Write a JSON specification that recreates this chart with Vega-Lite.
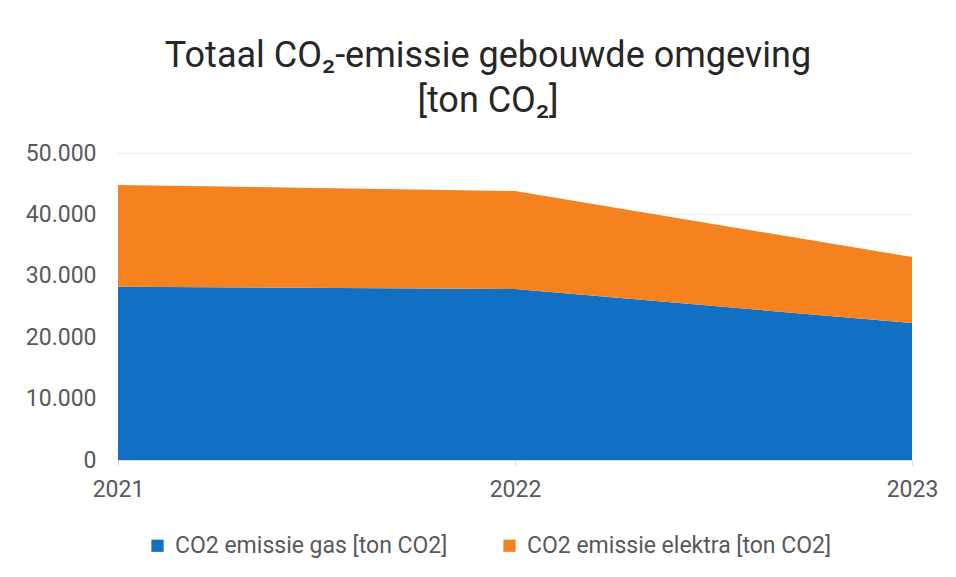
{
  "$schema": "https://vega.github.io/schema/vega-lite/v6.json",
  "width": 794,
  "height": 307,
  "autosize": "none",
  "padding": {"left": 118, "top": 153, "right": 44, "bottom": 117},
  "background": "white",
  "config": {
    "locale": {"number": {"decimal": ",", "thousands": ".", "grouping": [3], "currency": ["€", ""]}},
    "font": "Roboto, sans-serif",
    "view": {"stroke": null}
  },
  "title": {
    "text": ["Totaal CO₂-emissie gebouwde omgeving", "[ton CO₂]"],
    "fontSize": 36,
    "fontWeight": "normal",
    "color": "#262626",
    "anchor": "middle",
    "dx": -27,
    "offset": 22,
    "lineHeight": 45
  },
  "data": {
    "values": [
      {"jaar": "2021", "series": "CO2 emissie gas [ton CO2]", "value": 28200},
      {"jaar": "2022", "series": "CO2 emissie gas [ton CO2]", "value": 27850},
      {"jaar": "2023", "series": "CO2 emissie gas [ton CO2]", "value": 22300},
      {"jaar": "2021", "series": "CO2 emissie elektra [ton CO2]", "value": 16600},
      {"jaar": "2022", "series": "CO2 emissie elektra [ton CO2]", "value": 15950},
      {"jaar": "2023", "series": "CO2 emissie elektra [ton CO2]", "value": 10760}
    ]
  },
  "mark": {"type": "area", "opacity": 1},
  "encoding": {
    "x": {
      "field": "jaar",
      "type": "ordinal",
      "scale": {"type": "point", "padding": 0},
      "axis": {
        "title": null,
        "labelAngle": 0,
        "labelFontSize": 23,
        "labelColor": "#595959",
        "labelPadding": 13,
        "labelOverlap": false,
        "grid": false,
        "domainColor": "#d9d9d9",
        "tickColor": "#d9d9d9",
        "tickSize": 5
      }
    },
    "y": {
      "field": "value",
      "type": "quantitative",
      "stack": "zero",
      "scale": {"domain": [0, 50000], "nice": false},
      "axis": {
        "title": null,
        "values": [0, 10000, 20000, 30000, 40000, 50000],
        "format": ",d",
        "labelFontSize": 23,
        "labelColor": "#595959",
        "labelPadding": 22,
        "labelOverlap": false,
        "domain": false,
        "ticks": false,
        "gridColor": "#e3e3e3",
        "gridDash": [2, 1]
      }
    },
    "color": {
      "field": "series",
      "type": "nominal",
      "scale": {
        "domain": ["CO2 emissie gas [ton CO2]", "CO2 emissie elektra [ton CO2]"],
        "range": ["#1170c4", "#f5821f"]
      },
      "legend": {
        "title": null,
        "orient": "none",
        "direction": "horizontal",
        "legendX": 28,
        "legendY": 381,
        "symbolType": "square",
        "symbolSize": 150,
        "symbolStrokeWidth": 0,
        "labelFontSize": 23,
        "labelColor": "#595959",
        "labelLimit": 400,
        "columnPadding": 50,
        "labelOffset": 6
      }
    },
    "order": {"field": "series", "sort": "descending"}
  }
}
